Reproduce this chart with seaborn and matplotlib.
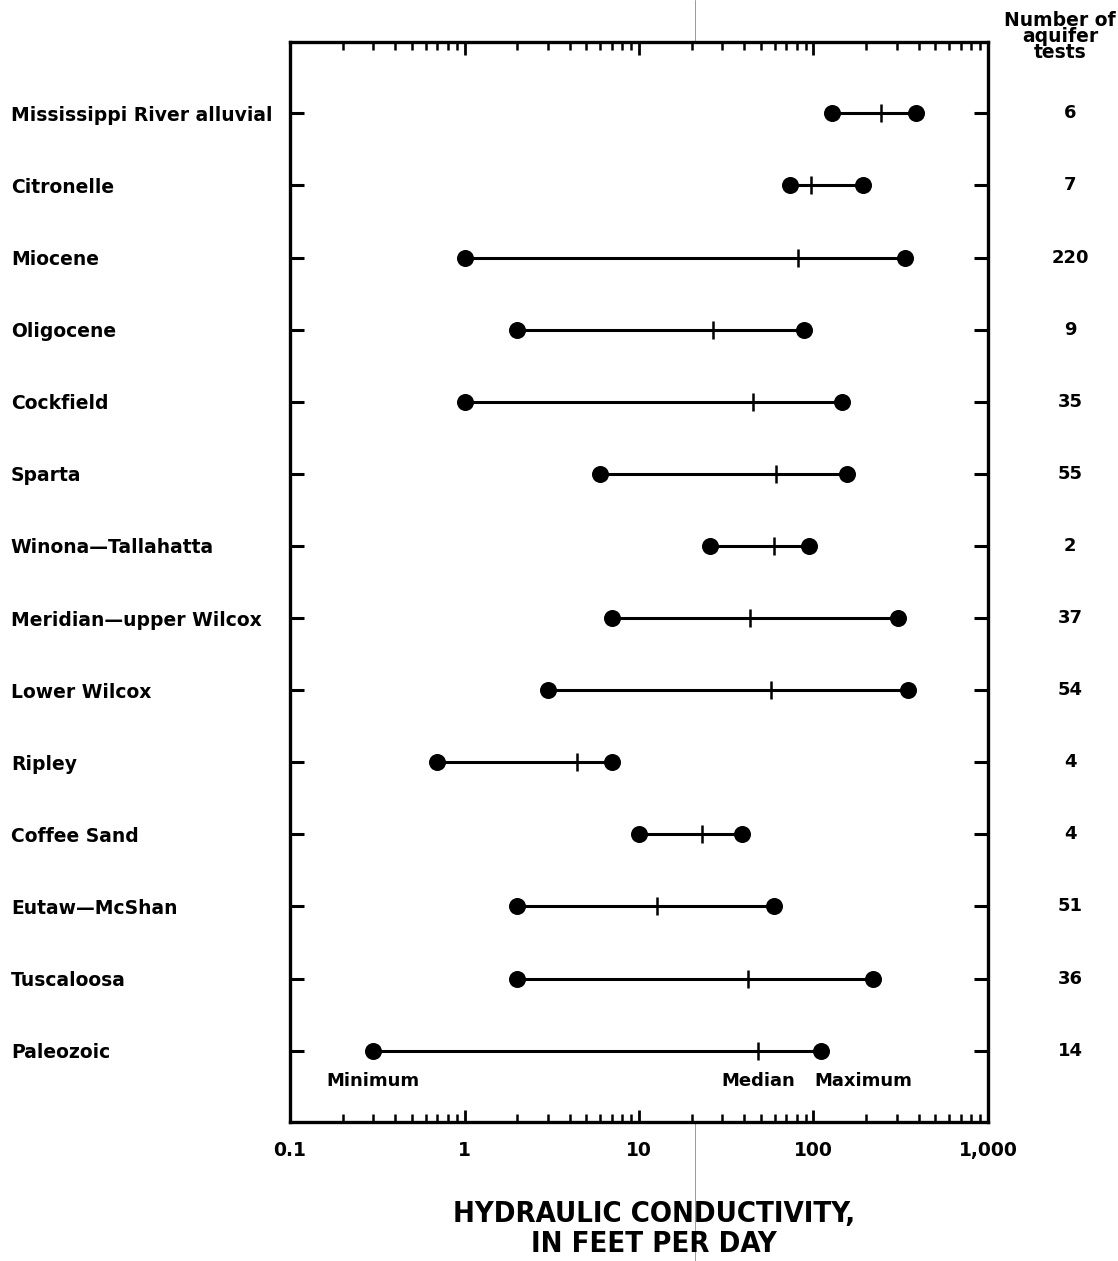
import numpy as np
import pandas as pd
import seaborn as sns
import matplotlib.pyplot as plt
from matplotlib.lines import Line2D
from matplotlib.ticker import LogLocator, NullFormatter, FixedLocator, FixedFormatter

# Aquifer hydraulic conductivity ranges (feet per day)
aquifers = [
    'Mississippi River alluvial', 'Citronelle', 'Miocene', 'Oligocene',
    'Cockfield', 'Sparta', 'Winona\u2014Tallahatta', 'Meridian\u2014upper Wilcox',
    'Lower Wilcox', 'Ripley', 'Coffee Sand', 'Eutaw\u2014McShan',
    'Tuscaloosa', 'Paleozoic'
]
k_min = [127, 73, 1, 2, 1, 6, 25.5, 7, 3, 0.7, 10, 2, 2, 0.3]
k_median = [245, 97, 82, 26.5, 45, 61, 59, 43, 57, 4.4, 23, 12.7, 42, 48]
k_max = [388, 193, 336, 88, 145, 156, 94, 306, 349, 7, 39, 59, 220, 111]
n_tests = [6, 7, 220, 9, 35, 55, 2, 37, 54, 4, 4, 51, 36, 14]

df = pd.DataFrame({'aquifer': aquifers, 'kmin': k_min, 'kmed': k_median,
                   'kmax': k_max, 'n': n_tests})
df['row'] = np.arange(len(df))
ends = pd.concat([df[['row', 'kmin']].rename(columns={'kmin': 'k'}),
                  df[['row', 'kmax']].rename(columns={'kmax': 'k'})])

sns.set_theme(style='white')
plt.rcParams['font.family'] = ['DejaVu Sans']
plt.rcParams['font.weight'] = 'bold'
plt.rcParams['text.color'] = 'black'
plt.rcParams['axes.labelcolor'] = 'black'
plt.rcParams['xtick.color'] = 'black'
plt.rcParams['ytick.color'] = 'black'

fig = plt.figure(figsize=(11.18, 12.61), dpi=100)
ax = fig.add_axes([0.2594, 0.1102, 0.6243, 0.8565])

ax.hlines(df['row'], df['kmin'], df['kmax'], color='black', lw=2.2, zorder=2)
sns.scatterplot(data=ends, x='k', y='row', ax=ax, color='black', s=150,
                edgecolor='black', linewidth=0, zorder=3, legend=False)
sns.scatterplot(data=df, x='kmed', y='row', ax=ax, color='black', marker='|',
                s=180, linewidth=1.8, zorder=3, legend=False)

ax.set_xscale('log')
ax.set_xlim(0.1, 1000)
ax.set_ylim(13.99, -0.99)

for s in ax.spines.values():
    s.set_visible(True)
    s.set_color('black')
    s.set_linewidth(2.4)

ax.xaxis.set_major_locator(FixedLocator([0.1, 1, 10, 100, 1000]))
ax.xaxis.set_major_formatter(FixedFormatter(['0.1', '1', '10', '100', '1,000']))
ax.xaxis.set_minor_locator(LogLocator(base=10, subs=np.arange(2, 10)))
ax.xaxis.set_minor_formatter(NullFormatter())
ax.tick_params(axis='x', which='major', direction='in', length=9, width=2,
               top=True, bottom=True, labelsize=13.5, pad=14)
ax.tick_params(axis='x', which='minor', direction='in', length=6, width=1.8,
               top=True, bottom=True)

ax.set_yticks(df['row'])
ax.set_yticklabels(df['aquifer'])
ax.tick_params(axis='y', direction='in', length=10, width=2.2, left=True,
               right=True, labelsize=13.5, pad=201)
for lab in ax.get_yticklabels():
    lab.set_ha('left')

ax.set_xlabel('HYDRAULIC CONDUCTIVITY,\nIN FEET PER DAY', fontsize=21,
              fontweight='bold', fontstretch='condensed', linespacing=1.1)
ax.xaxis.set_label_coords(0.521, -0.072, transform=ax.transAxes)
ax.xaxis.label.set_va('top')
ax.set_ylabel('')
ax.grid(False)

# counts on the right
for r, n in zip(df['row'], df['n']):
    ax.text(1.1175, r, str(n), transform=ax.get_yaxis_transform(),
            ha='center', va='center', fontsize=13, fontweight='bold')
fig.text(1060 / 1118, 1 - 36 / 1261, 'Number of\naquifer\ntests',
         ha='center', va='center', fontsize=13.5, fontweight='bold',
         linespacing=0.8)

# legend-like labels under the last row
last = df.iloc[-1]
ax.text(last['kmin'], 13.42, 'Minimum', ha='center', va='center', fontsize=13)
ax.text(last['kmed'], 13.42, 'Median', ha='center', va='center', fontsize=13)
ax.text(193, 13.42, 'Maximum', ha='center', va='center', fontsize=13)

# faint fold line from the scanned original
fig.add_artist(Line2D([695 / 1118, 695 / 1118], [0, 1], color='#999999',
                      lw=0.7, zorder=0))

fig.savefig('out.png', dpi=100, facecolor='white')
